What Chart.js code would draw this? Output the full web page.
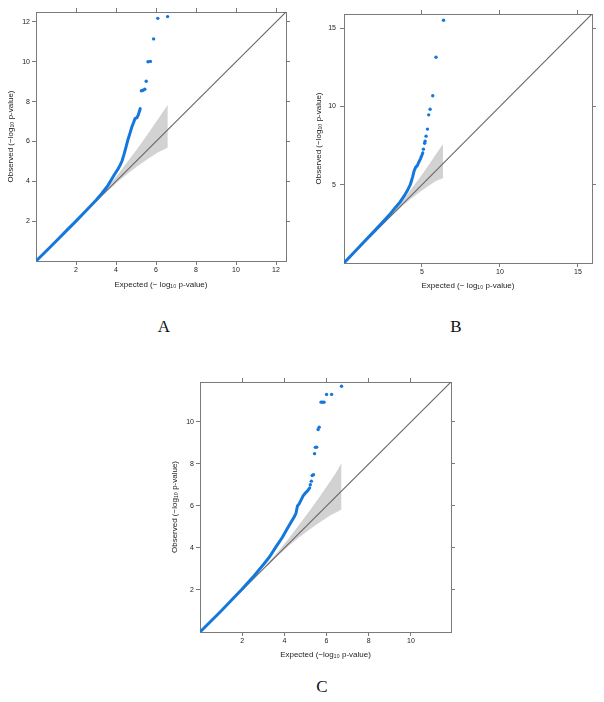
<!DOCTYPE html>
<html>
<head>
<meta charset="utf-8">
<script src="https://cdn.jsdelivr.net/npm/chart.js@4.4.1/dist/chart.umd.min.js"></script>
<style>
  html, body { margin: 0; padding: 0; background: #ffffff; }
  body { width: 604px; height: 702px; position: relative; overflow: hidden; }
  canvas { position: absolute; }
  .lbl { position: absolute; font-family: "Liberation Serif", "DejaVu Serif", serif; font-size: 17px; color: #111; transform: translate(-50%, -50%); }
</style>
</head>
<body>
<canvas id="cA" width="300" height="300" style="left:0px;top:0px;"></canvas>
<canvas id="cB" width="304" height="300" style="left:300px;top:0px;"></canvas>
<canvas id="cC" width="300" height="300" style="left:160px;top:370px;"></canvas>
<div class="lbl" style="left:164px;top:327px;">A</div>
<div class="lbl" style="left:456px;top:327px;">B</div>
<div class="lbl" style="left:322px;top:687px;">C</div>
<script>
// ---------------- DATA ----------------
// Panel A
const aAxisMax = 12.5;
const aTicks = [2, 4, 6, 8, 10, 12];
const aCurveX = [0, 0.5, 1, 1.5, 2, 2.5, 3, 3.3, 3.6, 3.9, 4.1, 4.2, 4.3, 4.4, 4.5, 4.6, 4.7, 4.8, 4.88, 4.95, 5.05, 5.12, 5.21];
const aCurveY = [0, 0.49, 0.99, 1.5, 2.0, 2.52, 3.05, 3.4, 3.8, 4.3, 4.62, 4.8, 5.02, 5.35, 5.72, 6.1, 6.42, 6.75, 6.95, 7.15, 7.2, 7.35, 7.65];
const aTopX = [5.27, 5.35, 5.44, 5.51, 5.6, 5.72, 5.88, 6.09, 6.58];
const aTopY = [8.55, 8.57, 8.62, 9.02, 10.0, 10.02, 11.15, 12.18, 12.27];
const aBandX  = [2.99, 3.59, 4.09, 4.59, 5.09, 5.59, 6.09, 6.34, 6.59];
const aBandHi = [3.01, 3.69, 4.31, 4.97, 5.64, 6.34, 7.07, 7.44, 7.81];
const aBandLo = [2.98, 3.55, 4.00, 4.41, 4.79, 5.14, 5.47, 5.59, 5.72];

// Panel B
const bAxisMax = 15.9;
const bTicks = [5, 10, 15];
const bCurveX = [0, 0.5, 1, 1.5, 2, 2.5, 3, 3.3, 3.6, 3.9, 4.1, 4.25, 4.4, 4.5, 4.6, 4.7, 4.8, 4.9, 5.0, 5.05];
const bCurveY = [0, 0.53, 1.05, 1.58, 2.1, 2.64, 3.18, 3.55, 3.9, 4.35, 4.7, 5.0, 5.5, 5.9, 6.12, 6.22, 6.45, 6.65, 6.9, 7.04];
const bTopX = [5.09, 5.17, 5.2, 5.26, 5.35, 5.43, 5.52, 5.69, 5.9, 6.38];
const bTopY = [7.27, 7.65, 7.78, 8.1, 8.55, 9.46, 9.82, 10.68, 13.14, 15.5];
const bBandX  = [2.75, 3.35, 3.85, 4.35, 4.85, 5.35, 5.85, 6.10, 6.35];
const bBandHi = [2.77, 3.45, 4.07, 4.73, 5.40, 6.10, 6.83, 7.20, 7.55];
const bBandLo = [2.74, 3.31, 3.76, 4.17, 4.55, 4.90, 5.23, 5.35, 5.44];

// Panel C
const cAxisMax = 11.9;
const cTicks = [2, 4, 6, 8, 10];
const cCurveX = [0, 0.5, 1, 1.5, 2, 2.5, 3, 3.3, 3.6, 3.9, 4.1, 4.3, 4.45, 4.55, 4.62, 4.7, 4.8, 4.9, 5.0, 5.1, 5.2];
const cCurveY = [0, 0.5, 1.0, 1.52, 2.05, 2.6, 3.2, 3.58, 4.05, 4.5, 4.85, 5.2, 5.45, 5.65, 6.0, 6.1, 6.3, 6.5, 6.62, 6.72, 6.86];
const cTopX = [5.23, 5.28, 5.32, 5.38, 5.43, 5.47, 5.53, 5.6, 5.65, 5.74, 5.81, 5.88, 6.0, 6.24, 6.71];
const cTopY = [7.01, 7.18, 7.45, 7.49, 8.49, 8.79, 8.8, 9.64, 9.75, 10.94, 10.94, 10.94, 11.31, 11.31, 11.7];
const cBandX  = [3.11, 3.71, 4.21, 4.71, 5.21, 5.71, 6.21, 6.46, 6.71];
const cBandHi = [3.13, 3.81, 4.43, 5.09, 5.76, 6.46, 7.19, 7.57, 8.00];
const cBandLo = [3.10, 3.67, 4.12, 4.53, 4.91, 5.26, 5.59, 5.71, 5.85];

const xTitleAB = "Expected (\u2212 log\u2081\u2080 p-value)";
const xTitleC = "Expected (\u2212log\u2081\u2080 p-value)";
const yTitle = "Observed (\u2212log\u2081\u2080 p-value)";

// ---------------- STYLE ----------------
const FONT = "'Liberation Sans', Arial, 'DejaVu Sans', sans-serif";
const BLUE = '#1477dc';
const FRAME = '#7a7a7a';
const TXT = '#222222';

function pts(xs, ys) { return xs.map((x, i) => ({ x: x, y: ys[i] })); }

function makeQQ(id, d, L) {
  const setTicks = (s) => { s.ticks = d.ticks.map(v => ({ value: v })); };
  const gridOpt = { drawOnChartArea: false, drawTicks: true, tickLength: 4, color: FRAME, lineWidth: 1 };
  const borderOpt = { display: true, color: FRAME, width: 1 };
  const tickFont = { family: FONT, size: 7 };
  const titleFont = { family: FONT, size: 8 };
  new Chart(document.getElementById(id), {
    type: 'line',
    data: {
      datasets: [
        { data: pts(d.topX, d.topY), showLine: false, pointRadius: 1.7, pointBackgroundColor: BLUE, pointBorderWidth: 0, order: 0 },
        { data: pts(d.curveX, d.curveY), showLine: true, borderColor: BLUE, borderWidth: 3, pointRadius: 0, tension: 0, fill: false, order: 1, borderCapStyle: 'round', borderJoinStyle: 'round' },
        { data: [{ x: 0, y: 0 }, { x: d.max, y: d.max }], borderColor: '#666666', borderWidth: 1.1, pointRadius: 0, fill: false, order: 2 },
        { data: pts(d.bandX, d.bandLo), borderColor: '#c4c4c4', borderWidth: 0.6, pointRadius: 0, fill: false, order: 4 },
        { data: pts(d.bandX, d.bandHi), borderColor: '#c4c4c4', borderWidth: 0.6, pointRadius: 0, backgroundColor: '#d2d2d2', fill: 3, order: 3 }
      ]
    },
    options: {
      responsive: false,
      animation: false,
      devicePixelRatio: 1,
      events: [],
      layout: { padding: L.pad },
      plugins: { legend: { display: false }, tooltip: { enabled: false }, title: { display: false } },
      scales: {
        x: {
          type: 'linear', position: 'bottom', min: 0, max: d.max,
          afterBuildTicks: setTicks,
          ticks: { font: tickFont, color: TXT, padding: 1, autoSkip: false, maxRotation: 0 },
          grid: gridOpt, border: borderOpt,
          title: { display: true, text: d.xTitle, font: titleFont, color: TXT, padding: { top: 0, bottom: L.xTitlePad } },
          afterFit: (s) => { s.height = L.bottom; }
        },
        y: {
          type: 'linear', position: 'left', min: 0, max: d.max,
          afterBuildTicks: setTicks,
          ticks: { font: tickFont, color: TXT, padding: L.yTickPad, autoSkip: false },
          grid: gridOpt, border: borderOpt,
          title: { display: true, text: yTitle, font: titleFont, color: TXT, padding: { top: L.yTitlePad, bottom: 0 } },
          afterFit: (s) => { s.width = L.left; }
        },
        x2: {
          type: 'linear', position: 'top', min: 0, max: d.max,
          afterBuildTicks: setTicks,
          ticks: { display: false },
          grid: gridOpt, border: borderOpt,
          afterFit: (s) => { s.height = 5; }
        },
        y2: {
          type: 'linear', position: 'right', min: 0, max: d.max,
          afterBuildTicks: setTicks,
          ticks: { display: false },
          grid: gridOpt, border: borderOpt,
          afterFit: (s) => { s.width = 5; }
        }
      }
    }
  });
}

makeQQ('cA',
  { max: aAxisMax, ticks: aTicks, curveX: aCurveX, curveY: aCurveY, topX: aTopX, topY: aTopY, bandX: aBandX, bandLo: aBandLo, bandHi: aBandHi, xTitle: xTitleAB },
  { pad: { left: 0, right: 9, top: 7, bottom: 0 }, left: 36, bottom: 39, xTitlePad: 10, yTitlePad: 6, yTickPad: 2 });

makeQQ('cB',
  { max: bAxisMax, ticks: bTicks, curveX: bCurveX, curveY: bCurveY, topX: bTopX, topY: bTopY, bandX: bBandX, bandLo: bBandLo, bandHi: bBandHi, xTitle: xTitleAB },
  { pad: { left: 0, right: 7, top: 9, bottom: 0 }, left: 44, bottom: 37, xTitlePad: 9.5, yTitlePad: 13.5, yTickPad: 4 });

makeQQ('cC',
  { max: cAxisMax, ticks: cTicks, curveX: cCurveX, curveY: cCurveY, topX: cTopX, topY: cTopY, bandX: cBandX, bandLo: cBandLo, bandHi: cBandHi, xTitle: xTitleC },
  { pad: { left: 0, right: 4, top: 7, bottom: 0 }, left: 40, bottom: 38, xTitlePad: 10, yTitlePad: 10, yTickPad: 2 });
</script>
</body>
</html>
